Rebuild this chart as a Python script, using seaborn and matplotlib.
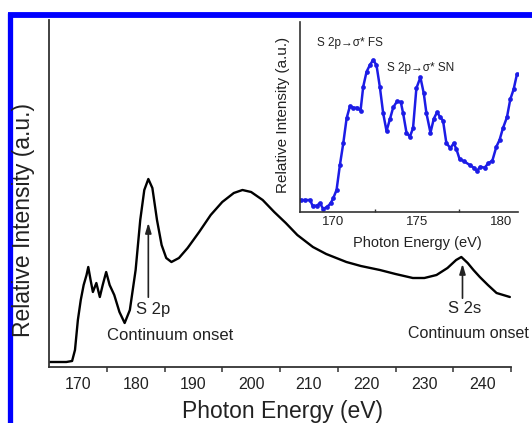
import numpy as np
import pandas as pd
import seaborn as sns
import matplotlib
matplotlib.use("Agg")
import matplotlib.pyplot as plt
from matplotlib.lines import Line2D

# ---------------- data ----------------
main_energy = [165.0, 168.0, 169.0, 169.5, 170.0, 170.5, 171.0, 171.5, 171.8, 172.2,
               172.6, 173.2, 173.8, 174.3, 174.9, 175.5, 176.3, 177.2, 178.1, 179.0,
               180.0, 180.8, 181.5, 182.2, 182.9, 183.7, 184.5, 185.3, 186.2, 187.5,
               189.0, 191.0, 193.0, 195.0, 197.0, 198.5, 200.0, 202.0, 204.0, 206.0,
               208.0, 210.7, 213.0, 216.5, 219.0, 222.3, 225.0, 228.0, 230.0, 232.1,
               234.0, 235.5, 236.4, 237.5, 238.5, 239.6, 241.0, 242.5, 244.8]
main_intensity = [5, 5, 6, 17, 47, 67, 82, 92, 100, 87,
                  75, 84, 70, 82, 95, 82, 72, 55, 44, 57,
                  97, 147, 177, 188, 179, 147, 122, 109, 105, 109,
                  119, 135, 152, 165, 174, 177, 175, 167, 155, 144,
                  132, 120, 113, 105, 101, 97, 93, 89, 89, 92,
                  99, 107, 110, 104, 97, 90, 82, 74, 70]

inset_energy = [168.04, 168.30, 168.60, 168.75, 168.99, 169.19, 169.39, 169.63, 169.83, 169.98,
                170.18, 170.38, 170.58, 170.78, 170.98, 171.17, 171.41, 171.61, 171.77, 171.97,
                172.17, 172.36, 172.56, 172.76, 172.96, 173.16, 173.36, 173.56, 173.79, 174.01,
                174.15, 174.35, 174.55, 174.74, 174.94, 175.18, 175.38, 175.54, 175.78, 175.98,
                176.17, 176.37, 176.53, 176.73, 176.97, 177.17, 177.33, 177.52, 177.76, 178.12,
                178.36, 178.55, 178.76, 179.01, 179.23, 179.47, 179.71, 179.90, 180.10, 180.34,
                180.54, 180.74, 180.94]
inset_pixel_y = [600, 600, 600, 617, 617, 610, 627, 620, 610, 595,
                 570, 495, 430, 355, 318, 323, 323, 332, 260, 215,
                 195, 180, 195, 260, 340, 393, 358, 322, 304, 306,
                 340, 398, 410, 385, 265, 232, 280, 340, 398, 356,
                 337, 352, 362, 430, 444, 430, 448, 478, 483, 495,
                 503, 512, 500, 503, 490, 482, 440, 420, 385, 352,
                 298, 268, 222]
inset_intensity = [round(212 - v / 3, 1) for v in inset_pixel_y]

main_ticks = [170, 180, 190, 200, 210, 220, 230, 240]
inset_ticks = [170, 175, 180]

main_df = pd.DataFrame({"energy": main_energy, "intensity": main_intensity})
inset_df = pd.DataFrame({"energy": inset_energy, "intensity": inset_intensity})

# ---------------- style ----------------
sns.set_style("white")
plt.rcParams["font.family"] = ["Liberation Sans", "DejaVu Sans"]

fig = plt.figure(figsize=(5.32, 4.23), dpi=100)
W, H = 532, 423
txt = "#222222"

def fax(l, t, r, b):
    return [l / W, 1 - b / H, (r - l) / W, (b - t) / H]

ax = fig.add_axes(fax(49, 20, 511, 367))
sns.lineplot(data=main_df, x="energy", y="intensity", ax=ax, color="black",
             linewidth=1.7)
ax.set_xlim(165, 245)
ax.set_ylim(0, 347)
ax.set_xticks(main_ticks)
ax.set_xticks([175, 185, 195, 205, 215, 225, 235, 245], minor=True)
ax.set_yticks([])
ax.set_xlabel("")
ax.set_ylabel("")
for s in ["top", "right"]:
    ax.spines[s].set_visible(False)
for s in ["left", "bottom"]:
    ax.spines[s].set_color("#333333")
    ax.spines[s].set_linewidth(1.3)
ax.tick_params(axis="x", which="major", direction="inout", length=7, width=1.2,
               labelsize=11.5, colors="#333333", pad=4, labelcolor=txt)
ax.tick_params(axis="x", which="minor", direction="out", length=3.5, width=1.1,
               colors="#333333", bottom=True)

fig.text(282 / W, 1 - 411 / H, "Photon Energy (eV)", ha="center", va="center",
         fontsize=16.5, color=txt)
fig.text(23.5 / W, 1 - 220 / H, "Relative Intensity (a.u.)", ha="center", va="center",
         rotation=90, fontsize=16.5, color=txt)

# annotations on main
arrow_kw = dict(arrowstyle="-|>,head_length=0.6,head_width=0.18", color=txt, lw=1.2)
ax.annotate("", xy=(182.2, 147), xytext=(182.2, 67), arrowprops=arrow_kw)
ax.text(183.0, 58, "S 2p", ha="center", va="center", fontsize=12, color=txt)
ax.text(186.0, 32, "Continuum onset", ha="center", va="center", fontsize=12,
        color=txt)
ax.annotate("", xy=(236.6, 106), xytext=(236.6, 66), arrowprops=arrow_kw)
ax.text(237.0, 59, "S 2s", ha="center", va="center", fontsize=12, color=txt)
fig.text(529 / W, 1 - 333 / H, "Continuum onset", ha="right", va="center",
         fontsize=11.5, color=txt)

# ---------------- inset ----------------
blue = "#1c1ce6"
ins = fig.add_axes(fax(300, 22, 518, 212))
ins.patch.set_alpha(0)
sns.lineplot(data=inset_df, x="energy", y="intensity", ax=ins, color=blue,
             linewidth=1.8, marker="o", markersize=3.4, markeredgewidth=0,
             markerfacecolor=blue)
ins.set_xlim(168, 181)
ins.set_ylim(0, 190)
ins.set_xticks(inset_ticks)
ins.set_xticks([172.5, 177.5], minor=True)
ins.set_yticks([])
ins.set_xlabel("")
ins.set_ylabel("")
for s in ["top", "right"]:
    ins.spines[s].set_visible(False)
for s in ["left", "bottom"]:
    ins.spines[s].set_color("#333333")
    ins.spines[s].set_linewidth(1.2)
ins.tick_params(axis="x", which="major", direction="in", length=4, width=1.0,
                labelsize=9.5, colors="#333333", pad=3, labelcolor=txt)
ins.tick_params(axis="x", which="minor", direction="in", length=2.5, width=1.0,
                colors="#333333", bottom=True)
fig.text(417 / W, 1 - 243 / H, "Photon Energy (eV)", ha="center", va="center",
         fontsize=10.5, color=txt)
fig.text(283 / W, 1 - 115 / H, "Relative Intensity (a.u.)", ha="center", va="center",
         rotation=90, fontsize=11, color=txt)
fig.text(317 / W, 1 - 43 / H, "S 2p\u2192\u03c3* FS", ha="left", va="center",
         fontsize=8.5, color=txt)
fig.text(387 / W, 1 - 68 / H, "S 2p\u2192\u03c3* SN", ha="left", va="center",
         fontsize=8.5, color=txt)

# blue frame
fig.add_artist(Line2D([7.5 / W, 1.0], [1 - 15.5 / H, 1 - 15.5 / H], color="#0000ff",
                      linewidth=4.2, transform=fig.transFigure, solid_capstyle="butt"))
fig.add_artist(Line2D([10 / W, 10 / W], [1 - 13 / H, 0.0], color="#0000ff",
                      linewidth=3.8, transform=fig.transFigure, solid_capstyle="butt"))

fig.savefig("out.png", dpi=100)
